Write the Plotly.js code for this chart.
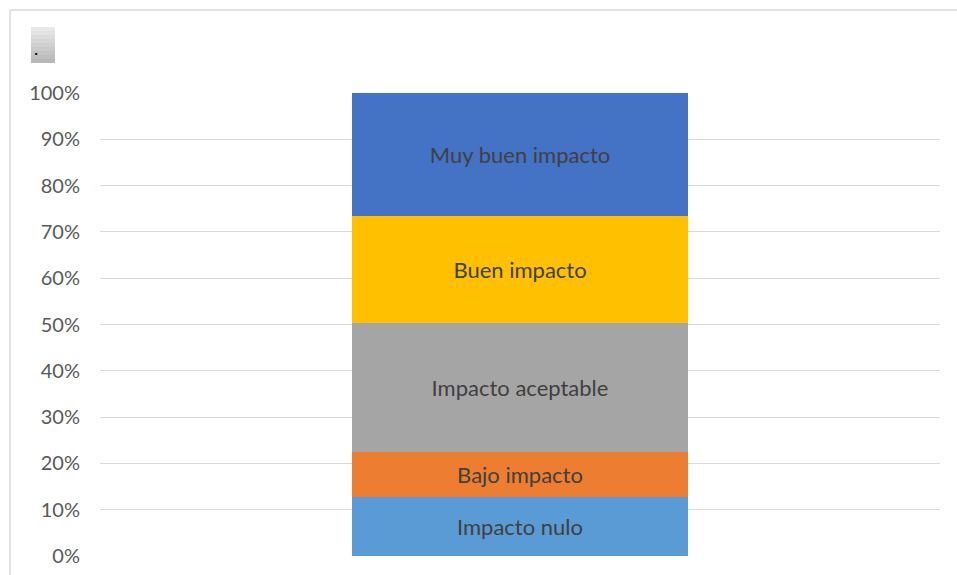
<!DOCTYPE html>
<html>
<head>
<meta charset="utf-8">
<script src="https://cdn.plot.ly/plotly-3.0.1.min.js"></script>
<style>html,body{margin:0;padding:0;background:#fff;}#chart{width:957px;height:575px;}</style>
</head>
<body>
<div id="chart"></div>
<script>
const category = [''];
const seriesNames = ['Impacto nulo', 'Bajo impacto', 'Impacto aceptable', 'Buen impacto', 'Muy buen impacto'];
const seriesValues = [12.7, 9.7, 27.9, 23.1, 26.6];
const seriesColors = ['#5B9BD5', '#ED7D31', '#A5A5A5', '#FFC000', '#4472C4'];
const yTickVals = [0, 10, 20, 30, 40, 50, 60, 70, 80, 90, 100];
const yTickText = ['0%', '10%', '20%', '30%', '40%', '50%', '60%', '70%', '80%', '90%', '100%'];

const traces = seriesNames.map((name, i) => ({
  type: 'bar',
  name: name,
  x: category,
  y: [seriesValues[i]],
  text: [name],
  textposition: 'inside',
  insidetextanchor: 'middle',
  textangle: 0,
  constraintext: 'none',
  textfont: {family: 'Lato, "Open Sans", sans-serif', size: 22, color: '#404040'},
  marker: {color: seriesColors[i], line: {width: 0}},
  width: 0.4,
  hoverinfo: 'none'
}));

const W = 840, H = 463, L = 100, T = 93;
function px(x){ return (x - L) / W; }
function py(y){ return (T + H - y) / H; }

const shapes = [
  {type: 'rect', xref: 'paper', yref: 'paper', x0: px(10), x1: px(965), y0: py(590), y1: py(10),
   line: {color: '#d9d9d9', width: 1.5}, fillcolor: 'rgba(0,0,0,0)', layer: 'below'}
];
// small gray gradient placeholder box
const boxTop = 27, boxBot = 63, bands = 9;
for (let i = 0; i < bands; i++) {
  const y0 = boxTop + (boxBot - boxTop) * i / bands;
  const y1 = boxTop + (boxBot - boxTop) * (i + 1) / bands;
  const g = Math.round(232 - i * 6);
  shapes.push({type: 'rect', xref: 'paper', yref: 'paper', x0: px(31), x1: px(55), y0: py(y1), y1: py(y0),
    line: {width: 0}, fillcolor: `rgb(${g},${g},${g})`});
}

const layout = {
  width: 957, height: 575,
  margin: {l: L, r: 957 - L - W, t: T, b: 575 - T - H},
  paper_bgcolor: '#ffffff', plot_bgcolor: '#ffffff',
  barmode: 'stack',
  showlegend: false,
  font: {family: 'Lato, "Open Sans", sans-serif', color: '#595959'},
  xaxis: {type: 'category', showticklabels: false, showgrid: false, zeroline: false, showline: false, fixedrange: true},
  yaxis: {range: [0, 100], tickvals: yTickVals, ticktext: yTickText, showgrid: true, gridcolor: '#d9d9d9', gridwidth: 1,
    zeroline: false, showline: false, ticks: 'outside', ticklen: 15, tickcolor: 'rgba(0,0,0,0)',
    tickfont: {size: 20, color: '#595959', family: 'Lato, "Open Sans", sans-serif'}},
  shapes: shapes,
  annotations: [
    {xref: 'paper', yref: 'paper', x: px(36), y: py(48), text: '.', showarrow: false,
     font: {size: 18, color: '#000'}, xanchor: 'center', yanchor: 'middle'}
  ]
};

Plotly.newPlot('chart', traces, layout, {displayModeBar: false, staticPlot: true});
</script>
</body>
</html>
